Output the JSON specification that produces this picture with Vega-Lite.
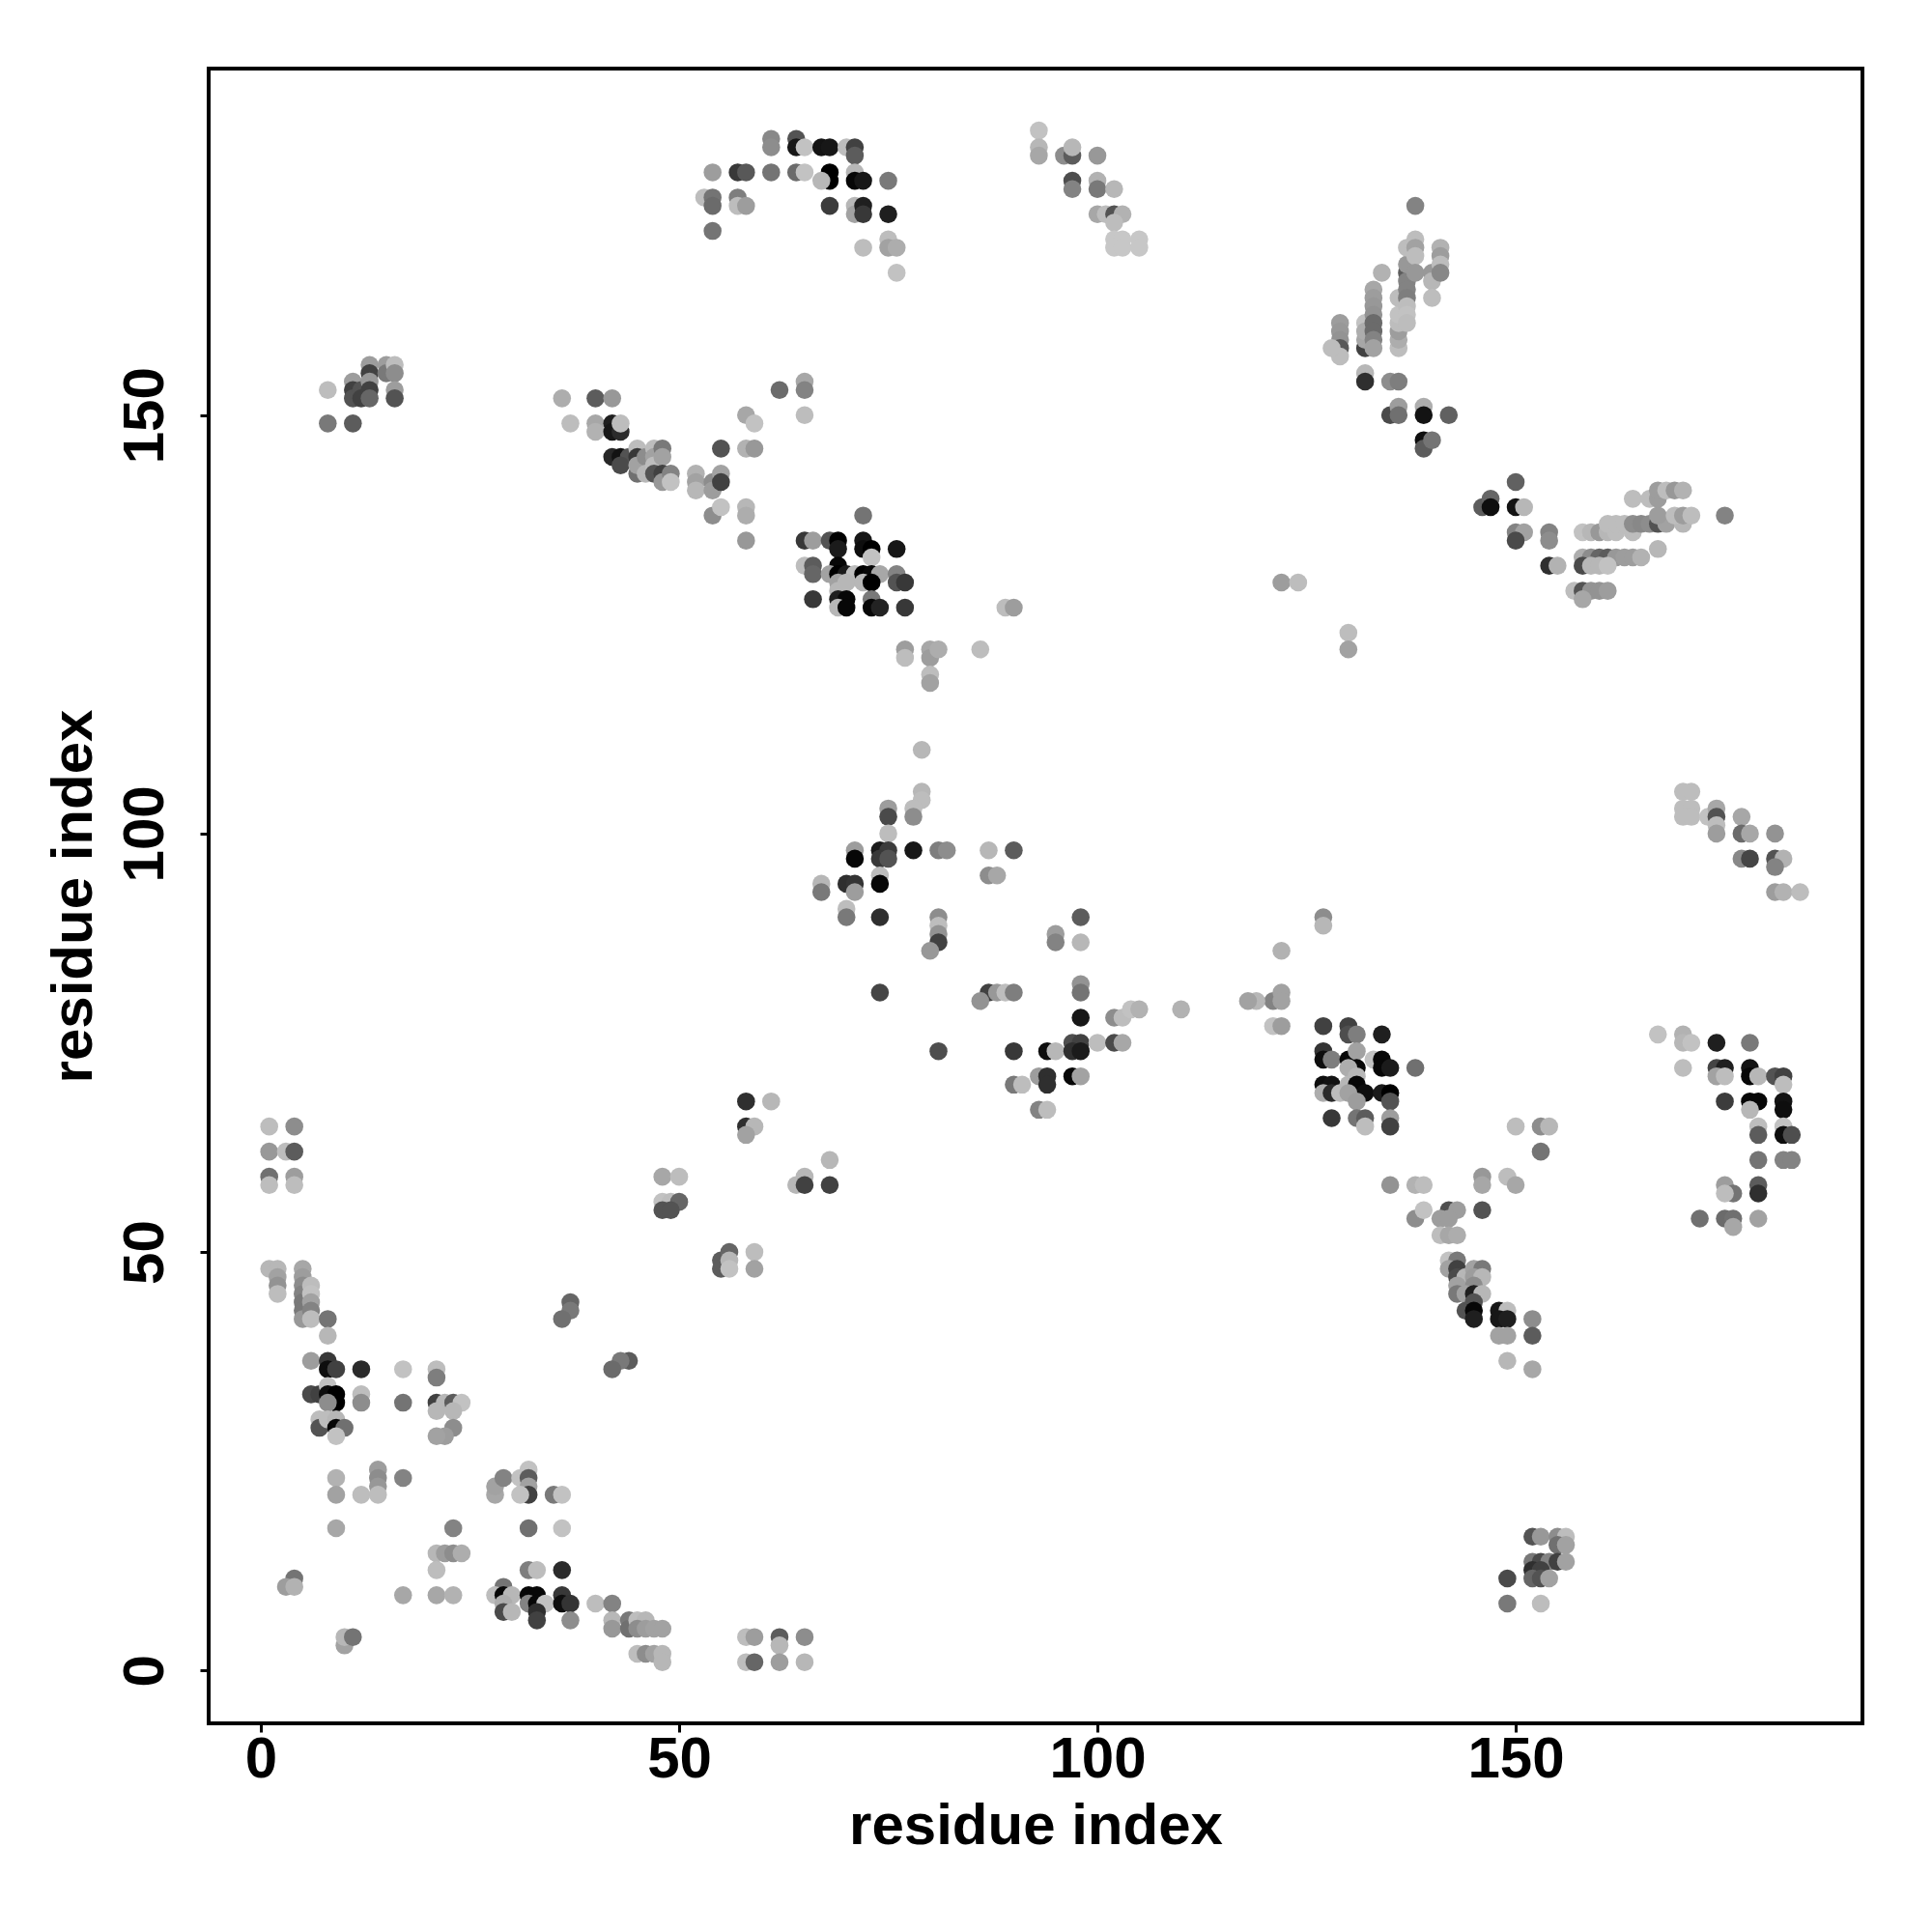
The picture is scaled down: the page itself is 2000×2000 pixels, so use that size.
{"$schema":"https://vega.github.io/schema/vega-lite/v6.json","autosize":{"type":"none"},"padding":{"left":216,"top":71,"right":72,"bottom":216},"width":1712,"height":1713,"background":"white","view":{"stroke":"black","strokeWidth":4,"fill":"white"},
"config":{"font":"Liberation Sans"},
"data":{"values":[
{"x":1,"y":65,"g":195},{"x":4,"y":65,"g":150},{"x":1,"y":62,"g":160},{"x":3,"y":62,"g":195},{"x":4,"y":62,"g":100},{"x":1,"y":59,"g":120},{"x":1,"y":58,"g":195},{"x":4,"y":59,"g":165},{"x":4,"y":58,"g":195},
{"x":1,"y":48,"g":190},{"x":2,"y":48,"g":190},{"x":2,"y":47,"g":170},{"x":2,"y":46,"g":155},{"x":2,"y":45,"g":195},
{"x":5,"y":48,"g":175},{"x":5,"y":47,"g":165},{"x":5,"y":46,"g":150},{"x":5,"y":45,"g":140},{"x":5,"y":44,"g":130},{"x":5,"y":43,"g":130},{"x":5,"y":42,"g":160},
{"x":6,"y":46,"g":195},{"x":6,"y":45,"g":200},{"x":6,"y":44,"g":170},{"x":6,"y":43,"g":140},{"x":6,"y":42,"g":195},{"x":8,"y":42,"g":125},{"x":8,"y":40,"g":190},
{"x":6,"y":37,"g":165},{"x":8,"y":37,"g":60},{"x":8,"y":36,"g":10},{"x":9,"y":36,"g":70},{"x":12,"y":36,"g":45},{"x":17,"y":36,"g":200},{"x":21,"y":36,"g":195},{"x":21,"y":35,"g":135},
{"x":6,"y":33,"g":80},{"x":7,"y":33,"g":70},{"x":8,"y":34,"g":200},{"x":8,"y":33,"g":10},{"x":9,"y":33,"g":0},{"x":9,"y":32,"g":0},{"x":8,"y":32,"g":150},{"x":12,"y":33,"g":195},{"x":12,"y":32,"g":150},{"x":17,"y":32,"g":125},{"x":21,"y":32,"g":70},{"x":22,"y":32,"g":190},{"x":23,"y":32,"g":100},{"x":24,"y":32,"g":200},{"x":21,"y":31,"g":190},{"x":23,"y":31,"g":190},{"x":23,"y":29,"g":150},{"x":22,"y":28,"g":165},{"x":21,"y":28,"g":170},
{"x":7,"y":30,"g":195},{"x":7,"y":29,"g":90},{"x":8,"y":30,"g":195},{"x":9,"y":30,"g":190},{"x":9,"y":29,"g":5},{"x":10,"y":29,"g":120},{"x":9,"y":28,"g":200},
{"x":9,"y":23,"g":185},{"x":9,"y":21,"g":170},{"x":12,"y":21,"g":195},{"x":14,"y":24,"g":165},{"x":14,"y":23,"g":150},{"x":14,"y":22,"g":160},{"x":14,"y":21,"g":195},{"x":17,"y":23,"g":140},
{"x":9,"y":17,"g":175},{"x":23,"y":17,"g":140},{"x":32,"y":17,"g":120},{"x":36,"y":17,"g":200},
{"x":28,"y":21,"g":175},{"x":28,"y":22,"g":170},{"x":29,"y":23,"g":140},{"x":31,"y":23,"g":200},{"x":32,"y":24,"g":200},{"x":32,"y":23,"g":100},{"x":32,"y":22,"g":170},{"x":32,"y":21,"g":70},{"x":31,"y":21,"g":200},{"x":35,"y":21,"g":130},{"x":36,"y":21,"g":200},
{"x":21,"y":14,"g":190},{"x":22,"y":14,"g":165},{"x":23,"y":14,"g":150},{"x":24,"y":14,"g":180},{"x":21,"y":12,"g":195},{"x":32,"y":12,"g":135},{"x":33,"y":12,"g":195},{"x":36,"y":12,"g":45},
{"x":4,"y":11,"g":125},{"x":3,"y":10,"g":165},{"x":4,"y":10,"g":185},{"x":17,"y":9,"g":175},{"x":21,"y":9,"g":175},{"x":23,"y":9,"g":185},
{"x":29,"y":10,"g":125},{"x":28,"y":9,"g":195},{"x":29,"y":9,"g":5},{"x":30,"y":9,"g":190},{"x":29,"y":8,"g":180},{"x":29,"y":7,"g":80},{"x":30,"y":7,"g":190},
{"x":32,"y":9,"g":5},{"x":33,"y":9,"g":5},{"x":32,"y":8,"g":140},{"x":33,"y":8,"g":5},{"x":34,"y":8,"g":200},{"x":33,"y":7,"g":50},{"x":33,"y":6,"g":70},
{"x":36,"y":9,"g":60},{"x":36,"y":8,"g":10},{"x":37,"y":8,"g":55},{"x":37,"y":6,"g":150},{"x":40,"y":8,"g":195},{"x":42,"y":8,"g":140},
{"x":42,"y":6,"g":190},{"x":42,"y":5,"g":160},{"x":44,"y":6,"g":130},{"x":44,"y":5,"g":120},{"x":45,"y":6,"g":195},{"x":46,"y":6,"g":190},{"x":45,"y":5,"g":150},{"x":46,"y":5,"g":165},{"x":47,"y":5,"g":170},{"x":48,"y":5,"g":170},
{"x":45,"y":2,"g":195},{"x":46,"y":2,"g":150},{"x":47,"y":2,"g":170},{"x":48,"y":2,"g":190},{"x":48,"y":1,"g":190},
{"x":58,"y":4,"g":195},{"x":59,"y":4,"g":165},{"x":62,"y":4,"g":100},{"x":62,"y":3,"g":190},{"x":58,"y":1,"g":195},{"x":59,"y":1,"g":110},{"x":62,"y":1,"g":165},{"x":65,"y":4,"g":150},{"x":65,"y":1,"g":190},
{"x":10,"y":3,"g":170},{"x":10,"y":4,"g":190},{"x":11,"y":4,"g":125},
{"x":58,"y":68,"g":50},{"x":61,"y":68,"g":190},{"x":58,"y":65,"g":50},{"x":59,"y":65,"g":190},{"x":58,"y":64,"g":170},
{"x":48,"y":59,"g":175},{"x":50,"y":59,"g":195},{"x":48,"y":56,"g":200},{"x":49,"y":56,"g":195},{"x":50,"y":56,"g":110},{"x":48,"y":55,"g":90},{"x":49,"y":55,"g":90},
{"x":55,"y":49,"g":100},{"x":55,"y":48,"g":100},{"x":56,"y":50,"g":110},{"x":56,"y":49,"g":190},{"x":56,"y":48,"g":200},{"x":59,"y":50,"g":195},{"x":59,"y":48,"g":170},
{"x":37,"y":44,"g":110},{"x":37,"y":43,"g":130},{"x":36,"y":42,"g":120},{"x":44,"y":37,"g":100},{"x":43,"y":37,"g":130},{"x":42,"y":36,"g":115},
{"x":64,"y":58,"g":190},{"x":65,"y":59,"g":190},{"x":65,"y":58,"g":70},{"x":68,"y":61,"g":190},{"x":68,"y":58,"g":70},
{"x":61,"y":183,"g":145},{"x":61,"y":182,"g":150},{"x":64,"y":183,"g":90},{"x":64,"y":182,"g":20},{"x":65,"y":182,"g":200},{"x":67,"y":182,"g":15},{"x":68,"y":182,"g":20},{"x":70,"y":182,"g":195},{"x":71,"y":182,"g":70},{"x":71,"y":181,"g":100},
{"x":54,"y":179,"g":165},{"x":57,"y":179,"g":60},{"x":58,"y":179,"g":95},{"x":61,"y":179,"g":125},{"x":64,"y":179,"g":115},{"x":65,"y":179,"g":200},{"x":68,"y":179,"g":0},{"x":68,"y":178,"g":0},{"x":67,"y":178,"g":190},{"x":71,"y":179,"g":190},{"x":71,"y":178,"g":5},{"x":72,"y":178,"g":20},{"x":75,"y":178,"g":130},
{"x":53,"y":176,"g":195},{"x":54,"y":176,"g":125},{"x":54,"y":175,"g":115},{"x":57,"y":176,"g":135},{"x":57,"y":175,"g":195},{"x":58,"y":175,"g":165},{"x":54,"y":172,"g":125},
{"x":68,"y":175,"g":65},{"x":71,"y":175,"g":190},{"x":71,"y":174,"g":170},{"x":72,"y":175,"g":30},{"x":72,"y":174,"g":60},{"x":75,"y":174,"g":30},{"x":72,"y":170,"g":195},{"x":75,"y":171,"g":195},{"x":75,"y":170,"g":170},{"x":76,"y":170,"g":180},{"x":76,"y":167,"g":200},
{"x":93,"y":184,"g":200},{"x":93,"y":182,"g":190},{"x":93,"y":181,"g":175},{"x":96,"y":181,"g":150},{"x":97,"y":181,"g":100},{"x":97,"y":182,"g":190},{"x":100,"y":181,"g":160},
{"x":97,"y":178,"g":85},{"x":97,"y":177,"g":140},{"x":100,"y":178,"g":185},{"x":100,"y":177,"g":130},{"x":102,"y":177,"g":190},{"x":100,"y":174,"g":175},{"x":101,"y":174,"g":195},{"x":102,"y":174,"g":90},{"x":103,"y":174,"g":185},{"x":102,"y":173,"g":195},
{"x":102,"y":171,"g":205},{"x":103,"y":171,"g":205},{"x":105,"y":171,"g":205},{"x":102,"y":170,"g":205},{"x":103,"y":170,"g":205},{"x":105,"y":170,"g":205},
{"x":36,"y":152,"g":180},{"x":40,"y":152,"g":100},{"x":42,"y":152,"g":160},{"x":37,"y":149,"g":195},{"x":40,"y":149,"g":175},{"x":40,"y":148,"g":185},{"x":42,"y":149,"g":30},{"x":42,"y":148,"g":20},{"x":43,"y":148,"g":45},{"x":43,"y":149,"g":195},
{"x":42,"y":145,"g":40},{"x":43,"y":145,"g":15},{"x":44,"y":145,"g":90},{"x":43,"y":144,"g":80},{"x":45,"y":146,"g":195},{"x":45,"y":145,"g":60},{"x":45,"y":143,"g":120},{"x":45,"y":144,"g":170},{"x":46,"y":145,"g":150},{"x":46,"y":143,"g":190},{"x":47,"y":146,"g":195},{"x":47,"y":145,"g":170},{"x":47,"y":144,"g":195},{"x":47,"y":143,"g":90},{"x":48,"y":146,"g":130},{"x":48,"y":145,"g":170},{"x":48,"y":143,"g":70},{"x":48,"y":142,"g":160},{"x":49,"y":143,"g":140},{"x":49,"y":142,"g":200},
{"x":52,"y":143,"g":185},{"x":52,"y":142,"g":170},{"x":52,"y":141,"g":190},{"x":54,"y":142,"g":150},{"x":54,"y":141,"g":165},{"x":55,"y":143,"g":170},{"x":55,"y":142,"g":70},
{"x":55,"y":146,"g":90},{"x":58,"y":146,"g":185},{"x":59,"y":146,"g":160},{"x":58,"y":150,"g":175},{"x":59,"y":149,"g":200},{"x":62,"y":153,"g":115},{"x":65,"y":154,"g":175},{"x":65,"y":153,"g":140},{"x":65,"y":150,"g":195},
{"x":54,"y":138,"g":150},{"x":55,"y":139,"g":200},{"x":58,"y":139,"g":190},{"x":58,"y":138,"g":180},{"x":58,"y":135,"g":160},
{"x":72,"y":138,"g":125},{"x":65,"y":135,"g":60},{"x":66,"y":135,"g":165},{"x":68,"y":135,"g":90},{"x":69,"y":135,"g":0},{"x":72,"y":135,"g":20},{"x":69,"y":134,"g":25},{"x":72,"y":134,"g":10},{"x":73,"y":134,"g":0},{"x":76,"y":134,"g":20},{"x":73,"y":133,"g":200},
{"x":65,"y":132,"g":195},{"x":66,"y":132,"g":100},{"x":69,"y":132,"g":5},{"x":66,"y":131,"g":110},{"x":68,"y":131,"g":170},{"x":69,"y":131,"g":0},{"x":70,"y":131,"g":25},{"x":71,"y":131,"g":195},{"x":72,"y":131,"g":0},{"x":73,"y":131,"g":5},{"x":74,"y":131,"g":175},{"x":76,"y":131,"g":140},
{"x":69,"y":130,"g":170},{"x":70,"y":130,"g":190},{"x":72,"y":130,"g":190},{"x":73,"y":130,"g":0},{"x":76,"y":130,"g":90},{"x":77,"y":130,"g":60},{"x":69,"y":129,"g":190},{"x":66,"y":128,"g":60},{"x":69,"y":128,"g":30},{"x":70,"y":128,"g":5},{"x":73,"y":128,"g":130},{"x":69,"y":127,"g":190},{"x":70,"y":127,"g":5},{"x":73,"y":127,"g":5},{"x":74,"y":127,"g":35},{"x":77,"y":127,"g":60},
{"x":89,"y":127,"g":195},{"x":90,"y":127,"g":165},{"x":77,"y":122,"g":165},{"x":77,"y":121,"g":195},{"x":80,"y":122,"g":175},{"x":80,"y":121,"g":165},{"x":81,"y":122,"g":180},{"x":86,"y":122,"g":195},{"x":80,"y":119,"g":195},{"x":80,"y":118,"g":170},
{"x":138,"y":175,"g":140},{"x":129,"y":161,"g":165},{"x":129,"y":160,"g":160},{"x":129,"y":159,"g":155},{"x":129,"y":158,"g":95},{"x":129,"y":157,"g":195},{"x":128,"y":158,"g":195},
{"x":132,"y":158,"g":70},{"x":132,"y":161,"g":200},{"x":132,"y":159,"g":175},{"x":132,"y":160,"g":180},
{"x":133,"y":165,"g":175},{"x":133,"y":164,"g":165},{"x":133,"y":163,"g":160},{"x":133,"y":162,"g":155},{"x":133,"y":161,"g":115},{"x":133,"y":160,"g":115},{"x":133,"y":159,"g":140},{"x":133,"y":158,"g":170},{"x":134,"y":167,"g":185},
{"x":136,"y":158,"g":195},{"x":136,"y":159,"g":180},{"x":136,"y":160,"g":165},{"x":136,"y":161,"g":195},{"x":136,"y":162,"g":200},{"x":136,"y":164,"g":195},
{"x":137,"y":167,"g":100},{"x":137,"y":166,"g":140},{"x":137,"y":165,"g":140},{"x":137,"y":164,"g":135},{"x":137,"y":163,"g":195},{"x":137,"y":162,"g":200},{"x":137,"y":161,"g":195},{"x":137,"y":168,"g":160},{"x":137,"y":170,"g":195},
{"x":138,"y":171,"g":195},{"x":138,"y":170,"g":170},{"x":138,"y":169,"g":195},{"x":138,"y":167,"g":160},
{"x":140,"y":167,"g":160},{"x":140,"y":166,"g":190},{"x":140,"y":164,"g":195},{"x":141,"y":170,"g":185},{"x":141,"y":169,"g":165},{"x":141,"y":168,"g":195},{"x":141,"y":167,"g":145},
{"x":132,"y":155,"g":190},{"x":132,"y":154,"g":50},{"x":135,"y":154,"g":150},{"x":136,"y":154,"g":135},{"x":135,"y":150,"g":80},{"x":136,"y":151,"g":165},{"x":136,"y":150,"g":120},{"x":139,"y":151,"g":180},{"x":139,"y":150,"g":15},{"x":142,"y":150,"g":105},{"x":139,"y":147,"g":10},{"x":139,"y":146,"g":100},{"x":140,"y":147,"g":125},
{"x":150,"y":142,"g":105},{"x":146,"y":139,"g":100},{"x":147,"y":140,"g":110},{"x":147,"y":139,"g":10},{"x":150,"y":139,"g":15},{"x":151,"y":139,"g":190},{"x":150,"y":136,"g":140},{"x":151,"y":136,"g":170},{"x":150,"y":135,"g":80},{"x":154,"y":136,"g":140},{"x":154,"y":135,"g":150},{"x":154,"y":132,"g":50},{"x":155,"y":132,"g":185},
{"x":158,"y":136,"g":200},{"x":159,"y":136,"g":190},{"x":160,"y":136,"g":160},{"x":161,"y":136,"g":190},{"x":162,"y":136,"g":195},{"x":164,"y":136,"g":195},
{"x":161,"y":137,"g":195},{"x":162,"y":137,"g":195},{"x":163,"y":137,"g":195},{"x":164,"y":137,"g":150},{"x":165,"y":137,"g":145},{"x":166,"y":137,"g":150},{"x":167,"y":137,"g":90},{"x":168,"y":137,"g":170},{"x":170,"y":137,"g":190},
{"x":167,"y":138,"g":165},{"x":169,"y":138,"g":195},{"x":170,"y":138,"g":165},{"x":171,"y":138,"g":195},{"x":175,"y":138,"g":140},
{"x":164,"y":140,"g":195},{"x":166,"y":140,"g":195},{"x":167,"y":140,"g":165},{"x":167,"y":141,"g":165},{"x":168,"y":141,"g":195},{"x":169,"y":141,"g":160},{"x":170,"y":141,"g":185},
{"x":158,"y":133,"g":180},{"x":159,"y":133,"g":150},{"x":160,"y":133,"g":110},{"x":161,"y":133,"g":100},{"x":162,"y":133,"g":160},{"x":163,"y":133,"g":165},{"x":164,"y":133,"g":165},{"x":165,"y":133,"g":185},{"x":167,"y":134,"g":190},
{"x":158,"y":132,"g":80},{"x":159,"y":132,"g":190},{"x":160,"y":132,"g":190},{"x":161,"y":132,"g":200},
{"x":157,"y":129,"g":195},{"x":158,"y":129,"g":90},{"x":159,"y":129,"g":155},{"x":160,"y":129,"g":155},{"x":161,"y":129,"g":165},{"x":158,"y":128,"g":175},
{"x":122,"y":130,"g":165},{"x":124,"y":130,"g":195},{"x":130,"y":124,"g":195},{"x":130,"y":122,"g":170},
{"x":127,"y":77,"g":70},{"x":130,"y":77,"g":70},{"x":130,"y":76,"g":85},{"x":131,"y":76,"g":135},{"x":134,"y":76,"g":30},
{"x":127,"y":74,"g":55},{"x":127,"y":73,"g":10},{"x":128,"y":73,"g":135},{"x":130,"y":73,"g":5},{"x":131,"y":74,"g":170},{"x":131,"y":72,"g":5},{"x":130,"y":72,"g":180},{"x":133,"y":73,"g":200},{"x":134,"y":73,"g":5},{"x":134,"y":72,"g":5},{"x":135,"y":72,"g":25},{"x":138,"y":72,"g":120},
{"x":127,"y":70,"g":10},{"x":128,"y":70,"g":15},{"x":127,"y":69,"g":180},{"x":128,"y":69,"g":45},{"x":129,"y":69,"g":195},{"x":130,"y":70,"g":190},{"x":131,"y":71,"g":190},{"x":131,"y":70,"g":5},{"x":131,"y":69,"g":5},{"x":132,"y":69,"g":10},{"x":134,"y":69,"g":25},{"x":135,"y":69,"g":0},{"x":135,"y":68,"g":90},{"x":130,"y":69,"g":170},{"x":131,"y":68,"g":165},
{"x":128,"y":66,"g":60},{"x":131,"y":66,"g":125},{"x":132,"y":66,"g":100},{"x":132,"y":65,"g":195},{"x":135,"y":66,"g":165},{"x":135,"y":65,"g":70},
{"x":135,"y":58,"g":155},{"x":138,"y":58,"g":185},{"x":139,"y":58,"g":195},{"x":146,"y":59,"g":160},{"x":146,"y":58,"g":175},{"x":149,"y":59,"g":195},{"x":150,"y":58,"g":175},{"x":150,"y":65,"g":195},{"x":153,"y":65,"g":150},{"x":154,"y":65,"g":190},{"x":153,"y":62,"g":125},
{"x":138,"y":54,"g":150},{"x":139,"y":55,"g":200},{"x":142,"y":55,"g":85},{"x":143,"y":55,"g":165},{"x":146,"y":55,"g":90},{"x":141,"y":54,"g":165},{"x":142,"y":54,"g":165},{"x":141,"y":52,"g":195},{"x":142,"y":52,"g":175},{"x":143,"y":52,"g":180},
{"x":142,"y":49,"g":200},{"x":143,"y":49,"g":130},{"x":142,"y":48,"g":170},{"x":143,"y":48,"g":70},{"x":143,"y":47,"g":80},{"x":144,"y":47,"g":190},{"x":145,"y":48,"g":170},{"x":146,"y":48,"g":130},{"x":145,"y":47,"g":165},{"x":146,"y":47,"g":190},{"x":143,"y":46,"g":170},{"x":145,"y":46,"g":150},{"x":143,"y":45,"g":130},{"x":144,"y":45,"g":170},{"x":145,"y":45,"g":30},{"x":146,"y":45,"g":190},{"x":145,"y":44,"g":90},{"x":144,"y":43,"g":90},{"x":145,"y":43,"g":5},{"x":145,"y":42,"g":30},
{"x":148,"y":43,"g":20},{"x":149,"y":43,"g":195},{"x":148,"y":42,"g":20},{"x":149,"y":42,"g":30},{"x":152,"y":42,"g":150},{"x":148,"y":40,"g":170},{"x":149,"y":40,"g":170},{"x":152,"y":40,"g":100},{"x":149,"y":37,"g":190},{"x":152,"y":36,"g":175},
{"x":167,"y":76,"g":200},{"x":170,"y":76,"g":185},{"x":170,"y":75,"g":190},{"x":171,"y":75,"g":200},{"x":170,"y":72,"g":195},{"x":174,"y":75,"g":30},{"x":178,"y":75,"g":130},
{"x":174,"y":72,"g":75},{"x":175,"y":72,"g":30},{"x":174,"y":71,"g":170},{"x":175,"y":71,"g":195},{"x":178,"y":72,"g":15},{"x":178,"y":71,"g":5},{"x":179,"y":71,"g":190},{"x":181,"y":71,"g":90},{"x":182,"y":71,"g":70},{"x":182,"y":70,"g":195},
{"x":175,"y":68,"g":65},{"x":178,"y":68,"g":5},{"x":179,"y":68,"g":5},{"x":182,"y":68,"g":15},{"x":182,"y":67,"g":10},{"x":178,"y":67,"g":190},
{"x":179,"y":65,"g":195},{"x":179,"y":64,"g":100},{"x":182,"y":65,"g":200},{"x":182,"y":64,"g":10},{"x":183,"y":64,"g":85},{"x":179,"y":61,"g":125},{"x":182,"y":61,"g":140},{"x":183,"y":61,"g":140},
{"x":175,"y":58,"g":165},{"x":176,"y":57,"g":125},{"x":175,"y":57,"g":195},{"x":179,"y":58,"g":100},{"x":179,"y":57,"g":50},{"x":172,"y":54,"g":120},{"x":175,"y":54,"g":115},{"x":176,"y":54,"g":120},{"x":176,"y":53,"g":175},{"x":179,"y":54,"g":170},
{"x":121,"y":80,"g":140},{"x":119,"y":80,"g":190},{"x":118,"y":80,"g":170},{"x":122,"y":81,"g":170},{"x":122,"y":80,"g":170},{"x":121,"y":77,"g":200},{"x":122,"y":77,"g":165},{"x":122,"y":86,"g":185},{"x":127,"y":90,"g":150},{"x":127,"y":89,"g":190},
{"x":79,"y":110,"g":190},{"x":79,"y":105,"g":190},{"x":79,"y":104,"g":195},{"x":78,"y":103,"g":195},{"x":78,"y":102,"g":150},{"x":75,"y":103,"g":165},{"x":75,"y":102,"g":80},{"x":75,"y":100,"g":195},
{"x":71,"y":98,"g":165},{"x":71,"y":97,"g":5},{"x":74,"y":98,"g":25},{"x":75,"y":98,"g":65},{"x":74,"y":97,"g":60},{"x":75,"y":97,"g":90},{"x":78,"y":98,"g":20},{"x":81,"y":98,"g":135},{"x":82,"y":98,"g":150},{"x":87,"y":98,"g":190},{"x":90,"y":98,"g":100},
{"x":87,"y":95,"g":150},{"x":88,"y":95,"g":175},{"x":74,"y":95,"g":195},{"x":74,"y":94,"g":5},{"x":70,"y":94,"g":50},{"x":71,"y":94,"g":55},{"x":71,"y":93,"g":165},{"x":67,"y":94,"g":190},{"x":67,"y":93,"g":130},{"x":70,"y":91,"g":195},{"x":70,"y":90,"g":130},{"x":74,"y":90,"g":50},
{"x":81,"y":90,"g":150},{"x":81,"y":89,"g":195},{"x":81,"y":88,"g":155},{"x":81,"y":87,"g":70},{"x":80,"y":86,"g":160},{"x":95,"y":88,"g":165},{"x":95,"y":87,"g":140},{"x":98,"y":90,"g":100},{"x":98,"y":87,"g":190},
{"x":74,"y":81,"g":75},{"x":87,"y":81,"g":70},{"x":88,"y":81,"g":160},{"x":89,"y":81,"g":195},{"x":90,"y":81,"g":135},{"x":86,"y":80,"g":155},{"x":98,"y":82,"g":155},{"x":98,"y":81,"g":125},{"x":98,"y":78,"g":20},
{"x":102,"y":78,"g":150},{"x":103,"y":78,"g":195},{"x":104,"y":79,"g":200},{"x":105,"y":79,"g":185},{"x":110,"y":79,"g":185},
{"x":97,"y":75,"g":85},{"x":98,"y":75,"g":70},{"x":100,"y":75,"g":195},{"x":102,"y":75,"g":80},{"x":103,"y":75,"g":175},{"x":81,"y":74,"g":85},{"x":90,"y":74,"g":60},{"x":94,"y":74,"g":10},{"x":95,"y":74,"g":190},{"x":97,"y":74,"g":50},{"x":98,"y":74,"g":25},
{"x":93,"y":71,"g":165},{"x":94,"y":71,"g":50},{"x":97,"y":71,"g":5},{"x":98,"y":71,"g":170},{"x":90,"y":70,"g":130},{"x":91,"y":70,"g":195},{"x":94,"y":70,"g":50},{"x":93,"y":67,"g":140},{"x":94,"y":67,"g":195},
{"x":8,"y":153,"g":195},{"x":8,"y":149,"g":130},{"x":11,"y":149,"g":100},{"x":11,"y":154,"g":165},{"x":11,"y":153,"g":70},{"x":11,"y":152,"g":90},{"x":12,"y":153,"g":90},{"x":12,"y":152,"g":70},{"x":13,"y":156,"g":165},{"x":13,"y":155,"g":70},{"x":13,"y":154,"g":160},{"x":13,"y":153,"g":70},{"x":13,"y":152,"g":110},{"x":15,"y":156,"g":165},{"x":15,"y":155,"g":130},{"x":16,"y":156,"g":195},{"x":16,"y":155,"g":150},{"x":16,"y":153,"g":165},{"x":16,"y":152,"g":90},
{"x":149,"y":11,"g":80},{"x":149,"y":8,"g":130},{"x":153,"y":8,"g":195},{"x":152,"y":16,"g":90},{"x":153,"y":16,"g":160},{"x":155,"y":16,"g":150},{"x":156,"y":16,"g":195},{"x":155,"y":15,"g":120},{"x":156,"y":15,"g":170},
{"x":152,"y":13,"g":130},{"x":153,"y":13,"g":80},{"x":154,"y":13,"g":140},{"x":155,"y":13,"g":70},{"x":156,"y":13,"g":170},{"x":152,"y":12,"g":50},{"x":153,"y":12,"g":70},{"x":152,"y":11,"g":110},{"x":153,"y":11,"g":90},{"x":154,"y":11,"g":170},
{"x":170,"y":105,"g":195},{"x":171,"y":105,"g":195},{"x":170,"y":103,"g":195},{"x":171,"y":103,"g":195},{"x":170,"y":102,"g":195},{"x":171,"y":102,"g":195},{"x":173,"y":102,"g":200},{"x":174,"y":103,"g":175},{"x":174,"y":102,"g":90},{"x":174,"y":101,"g":195},{"x":174,"y":100,"g":165},
{"x":177,"y":102,"g":175},{"x":177,"y":100,"g":115},{"x":178,"y":100,"g":175},{"x":181,"y":100,"g":155},{"x":177,"y":97,"g":145},{"x":178,"y":97,"g":75},{"x":181,"y":97,"g":90},{"x":182,"y":97,"g":185},{"x":181,"y":96,"g":140},{"x":181,"y":93,"g":165},{"x":182,"y":93,"g":185},{"x":184,"y":93,"g":195}
]},
"mark":{"type":"point","filled":true,"opacity":1,"size":345,"stroke":null,"clip":true},
"encoding":{
"x":{"field":"x","type":"quantitative","scale":{"domain":[-6.24,191.45],"nice":false,"zero":false},"axis":{"values":[0,50,100,150],"grid":false,"domain":false,"tickSize":9,"tickWidth":3,"tickColor":"black","labelFontSize":60,"labelFontWeight":"bold","labelColor":"black","labelFont":"Liberation Sans","labelPadding":-1,"labelFlush":false,"labelOverlap":false,"title":"residue index","titleFontSize":60,"titleFontWeight":"bold","titleColor":"black","titleFont":"Liberation Sans","titlePadding":10}},
"y":{"field":"y","type":"quantitative","scale":{"domain":[-6.31,191.4],"nice":false,"zero":false},"axis":{"values":[0,50,100,150],"grid":false,"domain":false,"tickSize":9,"tickWidth":3,"tickColor":"black","labelFontSize":60,"labelFontWeight":"bold","labelColor":"black","labelFont":"Liberation Sans","labelAngle":-90,"labelAlign":"center","labelBaseline":"bottom","labelPadding":26,"labelFlush":false,"labelOverlap":false,"title":"residue index","titleFontSize":60,"titleFontWeight":"bold","titleColor":"black","titleFont":"Liberation Sans","titlePadding":13}},
"color":{"field":"g","type":"quantitative","scale":{"domain":[0,255],"range":["#000000","#ffffff"]},"legend":null},
"order":[{"field":"x","type":"quantitative"},{"field":"y","type":"quantitative"}]
}}
